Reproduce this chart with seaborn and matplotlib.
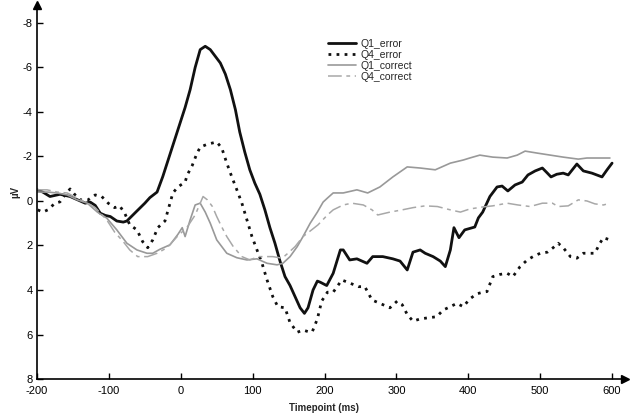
import pandas as pd
import matplotlib
matplotlib.use("Agg")
import matplotlib.pyplot as plt
import seaborn as sns

# ERP waveforms (time in ms, amplitude in uV)
t_q1_err = [-200, -192, -182, -168, -154, -140, -133, -126, -119, -112, -105, -98, -89, -80, -75,
            -61, -50, -43, -33, -25, -15, -6, 6, 13, 20, 27, 34, 41, 48, 55, 62, 69, 76, 82, 89,
            96, 103, 110, 117, 124, 131, 138, 145, 152, 159, 166, 172, 177, 184, 190, 194, 203,
            212, 222, 226, 235, 245, 259, 267, 281, 295, 305, 315, 323, 333, 340, 351, 361, 368,
            375, 380, 387, 395, 409, 414, 420, 430, 440, 447, 455, 465, 475, 483, 493, 503, 510,
            515, 523, 532, 539, 551, 560, 572, 586, 593, 600]
v_q1_err = [-0.5, -0.4, -0.2, -0.3, -0.2, 0.0, 0.1, 0.05, 0.2, 0.55, 0.65, 0.7, 0.9, 0.95, 0.9,
            0.45, 0.1, -0.15, -0.4, -1.1, -2.1, -3.0, -4.2, -5.0, -6.0, -6.8, -6.95, -6.8, -6.5,
            -6.2, -5.7, -5.0, -4.1, -3.1, -2.2, -1.4, -0.8, -0.3, 0.4, 1.2, 1.9, 2.7, 3.4, 3.8,
            4.3, 4.8, 5.05, 4.8, 4.0, 3.6, 3.65, 3.8, 3.25, 2.2, 2.2, 2.65, 2.6, 2.8, 2.5, 2.5,
            2.6, 2.7, 3.1, 2.3, 2.2, 2.35, 2.5, 2.7, 2.95, 2.2, 1.2, 1.65, 1.3, 1.17, 0.76, 0.5,
            -0.2, -0.63, -0.67, -0.45, -0.72, -0.85, -1.17, -1.35, -1.48, -1.25, -1.08, -1.2,
            -1.25, -1.17, -1.66, -1.35, -1.25, -1.08, -1.4, -1.7]

t_q4_err = [-199, -192, -185, -175, -168, -161, -154, -147, -140, -129, -119, -110, -101, -92,
            -85, -78, -71, -61, -53, -46, -39, -32, -22, -15, -11, -4, 6, 9, 16, 22, 27, 37, 50,
            57, 64, 71, 78, 85, 92, 99, 106, 113, 120, 128, 135, 145, 152, 162, 170, 180, 183,
            190, 196, 204, 212, 224, 236, 247, 256, 266, 277, 291, 301, 308, 315, 323, 333, 344,
            356, 365, 375, 384, 393, 402, 412, 420, 426, 434, 444, 454, 462, 472, 482, 490, 500,
            510, 518, 525, 532, 542, 551, 560, 569, 576, 583, 588, 597]
v_q4_err = [0.4, 0.5, 0.4, 0.1, 0.04, -0.27, -0.54, -0.27, -0.05, -0.05, -0.27, -0.2, 0.1, 0.3,
            0.22, 0.55, 1.07, 1.3, 1.83, 2.1, 1.75, 1.2, 0.9, 0.1, -0.36, -0.63, -0.85, -1.17,
            -1.6, -2.1, -2.42, -2.55, -2.65, -2.38, -1.7, -1.08, -0.5, 0.1, 0.85, 1.6, 2.2, 2.8,
            3.55, 4.3, 4.75, 4.8, 5.47, 5.9, 5.8, 5.9, 5.87, 5.3, 4.5, 4.1, 4.1, 3.55, 3.7, 3.85,
            3.85, 4.45, 4.6, 4.8, 4.5, 4.66, 5.1, 5.4, 5.3, 5.25, 5.2, 4.9, 4.75, 4.6, 4.75, 4.4,
            4.17, 4.1, 4.07, 3.4, 3.3, 3.25, 3.4, 2.95, 2.65, 2.5, 2.35, 2.3, 2.1, 1.9, 2.1, 2.5,
            2.57, 2.35, 2.35, 2.35, 1.9, 1.65, 1.75]

t_q1_cor = [-200, -186, -172, -158, -144, -130, -116, -103, -89, -75, -61, -47, -39, -29, -15,
            -4, 2, 6, 13, 20, 27, 34, 41, 50, 64, 78, 92, 106, 120, 134, 142, 152, 162, 170, 180,
            190, 198, 204, 212, 226, 245, 260, 277, 295, 315, 333, 354, 375, 393, 402, 416, 434,
            454, 468, 479, 496, 514, 532, 553, 565, 579, 597]
v_q1_cor = [-0.4, -0.4, -0.36, -0.27, -0.05, 0.1, 0.5, 0.77, 1.3, 1.9, 2.2, 2.35, 2.35, 2.17,
            1.97, 1.5, 1.2, 1.6, 0.85, 0.18, 0.1, 0.5, 1.0, 1.75, 2.35, 2.55, 2.65, 2.6, 2.8,
            2.87, 2.8, 2.5, 2.05, 1.6, 1.0, 0.5, 0.05, -0.13, -0.36, -0.36, -0.5, -0.36, -0.63,
            -1.08, -1.53, -1.48, -1.4, -1.7, -1.84, -1.93, -2.06, -1.97, -1.93, -2.06, -2.24,
            -2.15, -2.06, -1.97, -1.88, -1.93, -1.93, -1.93]

t_q4_cor = [-200, -186, -172, -158, -144, -130, -119, -103, -92, -80, -71, -60, -46, -33, -19,
            -5, 9, 20, 31, 37, 44, 50, 57, 64, 73, 85, 96, 108, 117, 128, 141, 149, 159, 170, 182,
            191, 204, 212, 226, 238, 254, 266, 274, 291, 308, 323, 340, 357, 375, 389, 402, 414,
            420, 434, 454, 469, 486, 503, 517, 525, 539, 553, 565, 576, 588, 597]
v_q4_cor = [-0.5, -0.5, -0.4, -0.36, -0.13, 0.1, 0.3, 0.85, 1.4, 1.83, 2.2, 2.5, 2.5, 2.35, 2.1,
            1.6, 1.17, 0.63, -0.2, -0.05, 0.25, 0.7, 1.17, 1.6, 2.05, 2.5, 2.65, 2.5, 2.5, 2.5,
            2.57, 2.35, 2.05, 1.6, 1.3, 1.07, 0.63, 0.4, 0.18, 0.1, 0.18, 0.4, 0.63, 0.5, 0.4,
            0.3, 0.22, 0.25, 0.4, 0.5, 0.36, 0.3, 0.27, 0.22, 0.1, 0.18, 0.25, 0.1, 0.1, 0.25,
            0.22, -0.05, 0.0, 0.13, 0.18, 0.1]

x_ticks = [-200, -100, 0, 100, 200, 300, 400, 500, 600]
y_ticks = [-8, -6, -4, -2, 0, 2, 4, 6, 8]

sns.set_style("ticks")
plt.rcParams["font.family"] = ["Liberation Sans", "DejaVu Sans"]
plt.rcParams["axes.unicode_minus"] = False

fig = plt.figure(figsize=(6.35, 4.15), dpi=100)
ax = fig.add_axes([0.0583, 0.0867, 0.926, 0.901])

curves = [
    ("Q1_error", t_q1_err, v_q1_err, dict(color="#111111", linewidth=2.0, linestyle="-")),
    ("Q4_error", t_q4_err, v_q4_err, dict(color="#111111", linewidth=2.0, linestyle=(0, (1.0, 1.9)))),
    ("Q1_correct", t_q1_cor, v_q1_cor, dict(color="#999999", linewidth=1.2, linestyle="-")),
    ("Q4_correct", t_q4_cor, v_q4_cor, dict(color="#a8a8a8", linewidth=1.1, linestyle=(0, (9, 3, 2.5, 3)))),
]
for name, t, v, style in curves:
    df = pd.DataFrame({"t": t, "v": v})
    sns.lineplot(data=df, x="t", y="v", ax=ax, label=name, **style)

ax.set_xlim(-200, 618)
ax.set_ylim(8, -8.8)
ax.set_xticks(x_ticks)
ax.set_yticks(y_ticks)
ax.tick_params(direction="in", length=4, width=1, labelsize=8, colors="black")
ax.tick_params(axis="x", pad=5)
ax.tick_params(axis="y", pad=3)
for s in ["top", "right"]:
    ax.spines[s].set_visible(False)
for s in ["left", "bottom"]:
    ax.spines[s].set_linewidth(1.2)
    ax.spines[s].set_color("black")

# axis arrows
ax.plot(1, 8, ">k", markersize=6, transform=ax.get_yaxis_transform(), clip_on=False)
ax.plot(-200, 1, "^k", markersize=6, transform=ax.get_xaxis_transform(), clip_on=False)

ax.set_xlabel("Timepoint (ms)", fontsize=7, fontweight="bold")
ax.xaxis.set_label_coords(0.488, -0.064)
ax.set_ylabel("µV", fontsize=7, fontweight="bold", labelpad=2)

ax.legend(loc="upper left", bbox_to_anchor=(0.495, 0.91), frameon=False, fontsize=7.5,
          handlelength=2.7, labelspacing=0.1, handletextpad=0.4, borderpad=0,
          borderaxespad=0)

fig.savefig("out.png", dpi=100)
